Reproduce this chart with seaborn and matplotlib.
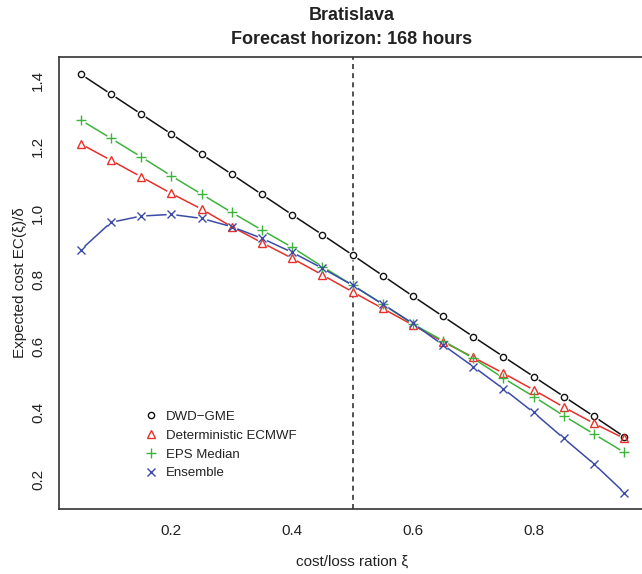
#!/usr/bin/env python3

import pandas as pd
import matplotlib

matplotlib.use("Agg")
import matplotlib.pyplot as plt
from matplotlib.lines import Line2D
import seaborn as sns

# cost/loss ratio values
xi = [0.05, 0.10, 0.15, 0.20, 0.25, 0.30, 0.35, 0.40, 0.45, 0.50,
      0.55, 0.60, 0.65, 0.70, 0.75, 0.80, 0.85, 0.90, 0.95]

dwd_gme = [1.418, 1.358, 1.298, 1.238, 1.177, 1.117, 1.056, 0.995, 0.935, 0.874,
           0.812, 0.750, 0.689, 0.628, 0.568, 0.508, 0.448, 0.388, 0.327]
det_ecmwf = [1.208, 1.159, 1.109, 1.059, 1.012, 0.959, 0.911, 0.864, 0.814, 0.763,
             0.713, 0.663, 0.613, 0.566, 0.518, 0.468, 0.416, 0.367, 0.322]
eps_median = [1.280, 1.225, 1.169, 1.112, 1.057, 1.002, 0.949, 0.897, 0.839, 0.783,
              0.726, 0.666, 0.616, 0.563, 0.503, 0.448, 0.390, 0.335, 0.280]
ensemble = [0.889, 0.972, 0.991, 0.996, 0.984, 0.959, 0.924, 0.882, 0.834, 0.783,
            0.726, 0.668, 0.603, 0.538, 0.471, 0.400, 0.322, 0.245, 0.159]

series = [
    ("DWD\u2212GME", dwd_gme, "#111111", "o", 4.5),
    ("Deterministic ECMWF", det_ecmwf, "#E8302A", "^", 5.5),
    ("EPS Median", eps_median, "#3CB43C", "+", 7.0),
    ("Ensemble", ensemble, "#3B4BA8", "x", 5.5),
]

sns.set_theme(style="white")
plt.rcParams["font.family"] = ["Liberation Sans", "DejaVu Sans"]

fig = plt.figure(figsize=(6.42, 5.74), dpi=100)
ax = fig.add_axes([59 / 642, 1 - 509 / 574, (646 - 59) / 642, (509 - 57) / 574])

# lines first, then white gaps (like R type="b"), then the point symbols
for name, vals, color, mk, ms in series:
    df = pd.DataFrame({"xi": xi, "ec": vals})
    sns.lineplot(data=df, x="xi", y="ec", color=color, lw=1.1, ax=ax, legend=False)
for name, vals, color, mk, ms in series:
    df = pd.DataFrame({"xi": xi, "ec": vals})
    sns.scatterplot(data=df, x="xi", y="ec", color="white", s=50, linewidth=0,
                    marker="o", ax=ax, legend=False, zorder=3)
for name, vals, color, mk, ms in series:
    df = pd.DataFrame({"xi": xi, "ec": vals})
    sns.lineplot(data=df, x="xi", y="ec", ax=ax, legend=False, lw=0,
                 marker=mk, markersize=ms, markerfacecolor="none",
                 markeredgecolor=color, markeredgewidth=1.0, zorder=4)

ax.axvline(0.5, color="#333333", lw=1.2, dashes=(3, 2.5), zorder=1)

ax.set_xlim(0.014, 0.986)
ax.set_ylim(0.1096, 1.4696)
ax.set_xticks([0.2, 0.4, 0.6, 0.8])
ax.set_xticklabels(["0.2", "0.4", "0.6", "0.8"])
ax.set_yticks([0.2, 0.4, 0.6, 0.8, 1.0, 1.2, 1.4])
ax.set_yticklabels(["0.2", "0.4", "0.6", "0.8", "1.0", "1.2", "1.4"],
                   rotation=90, va="center")
ax.tick_params(direction="out", length=6, width=1.1, color="#333333",
               labelsize=11, labelcolor="#222222", pad=5)
ax.tick_params(axis="y", pad=4)
for sp in ax.spines.values():
    sp.set_color("#333333")
    sp.set_linewidth(1.2)

ax.set_xlabel("cost/loss ration \u03be", fontsize=11, color="#222222", labelpad=12)
ax.set_ylabel("Expected cost EC(\u03be)/\u03b4", fontsize=11, color="#222222", labelpad=3)

fig.text(352 / 642, 1 - 15 / 574, "Bratislava", ha="center", va="center",
         fontsize=13, fontweight="bold", color="#222222")
fig.text(352 / 642, 1 - 40 / 574, "Forecast horizon: 168 hours", ha="center",
         va="center", fontsize=13, fontweight="bold", color="#222222")

handles = [
    Line2D([], [], lw=0, marker=mk, markersize=ms, markerfacecolor="none",
           markeredgecolor=color, markeredgewidth=1.0)
    for name, vals, color, mk, ms in series
]
ax.legend(handles, [s[0] for s in series], loc="upper left",
          bbox_to_anchor=(138 / 642, 1 - 404 / 574), bbox_transform=fig.transFigure,
          frameon=False, fontsize=9.5, handlelength=1.0, handletextpad=0.6,
          labelspacing=0.5, borderpad=0, labelcolor="#222222")

fig.savefig("out.png", dpi=100)
